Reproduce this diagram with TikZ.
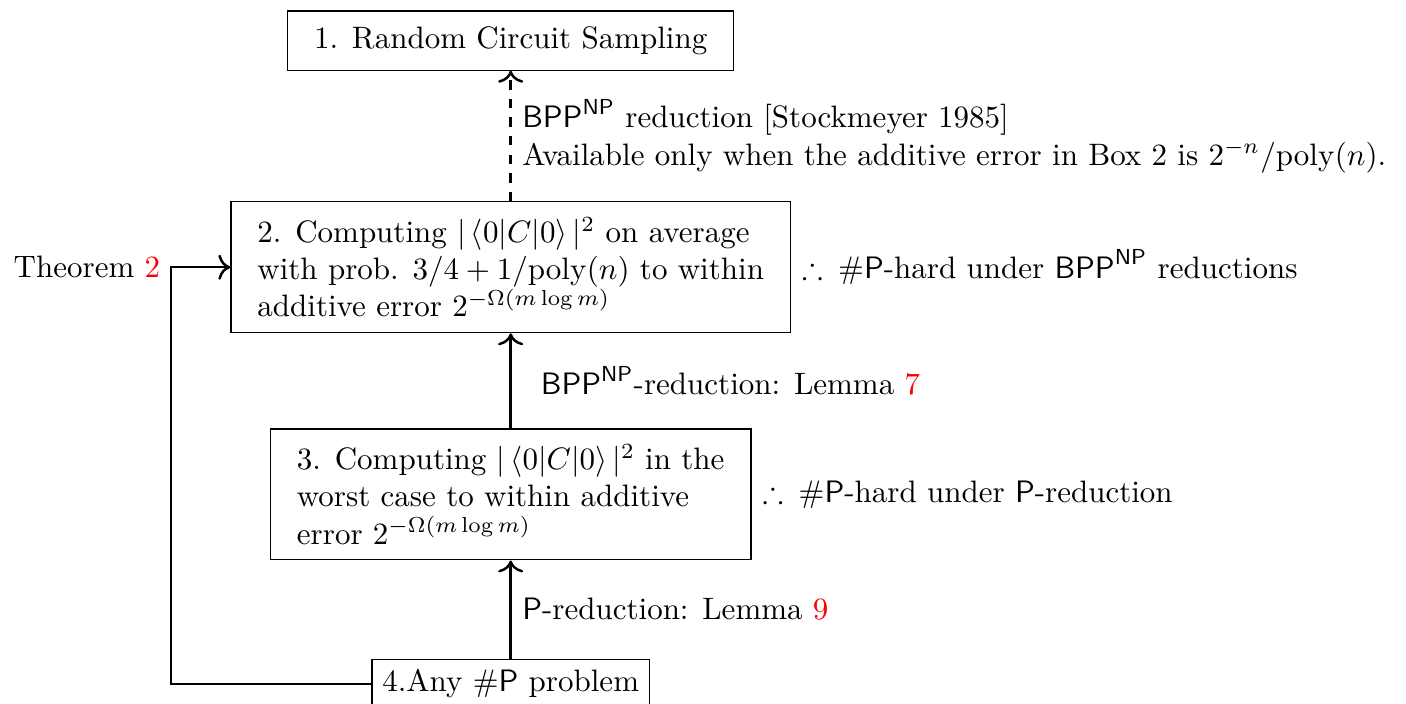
\documentclass[tikz,border=0pt]{standalone}
\usepackage{amsmath,amssymb}
\usetikzlibrary{arrows.meta}
\tikzset{box/.style={draw, align=left, inner xsep=3mm, inner ysep=5pt},
    >={To[scale=1.15]}}
\newcommand{\cls}[1]{\ensuremath{\mathsf{#1}}}
\begin{document}
\begin{tikzpicture}
    \useasboundingbox (0,0) rectangle (15.94,7.98);
    % the four problems
    \node[box] (rcs) at (5.79,7.52) {1. Random Circuit Sampling};
    \node[box] (avg) at (5.79,4.95) {2. Computing $|\,\langle 0|C|0\rangle\,|^2$ on average\\ with prob. $3/4+1/\mathrm{poly}(n)$ to within\\ additive error $2^{-\Omega(m\log m)}$};
    \node[box] (worst) at (5.79,2.375) {3. Computing $|\,\langle 0|C|0\rangle\,|^2$ in the\\ worst case to within additive\\ error $2^{-\Omega(m\log m)}$};
    \node[draw] (sharpp) at (5.79,0.227) {4.Any \#\cls{P} problem};
    % reductions
    \draw[->, thick, dashed] (avg) -- (rcs) node[midway, right, align=left] {$\cls{BPP}^{\cls{NP}}$ reduction [Stockmeyer 1985]\\ Available only when the additive error in Box 2 is $2^{-n}/\mathrm{poly}(n)$.};
    \draw[->, thick] (worst) -- (avg) node[midway, right, xshift=6pt] {$\cls{BPP}^{\cls{NP}}$-reduction: Lemma \textcolor{red}{7}};
    \draw[->, thick] (sharpp) -- (worst) node[midway, right] {\cls{P}-reduction: Lemma \textcolor{red}{9}};
    % theorem
    \coordinate (bend) at (1.94,4.95);
    \draw[->, thick] (sharpp.west) -| (bend) -- (avg.west);
    \node[left] (thm) at (bend) {Theorem \textcolor{red}{2}};
    % consequences
    \node[right] (hard2) at (avg.east) {$\therefore\,$ \#\cls{P}-hard under $\cls{BPP}^{\cls{NP}}$ reductions};
    \node[right] (hard3) at (worst.east) {$\therefore\,$ \#\cls{P}-hard under \cls{P}-reduction};
\end{tikzpicture}
\end{document}
